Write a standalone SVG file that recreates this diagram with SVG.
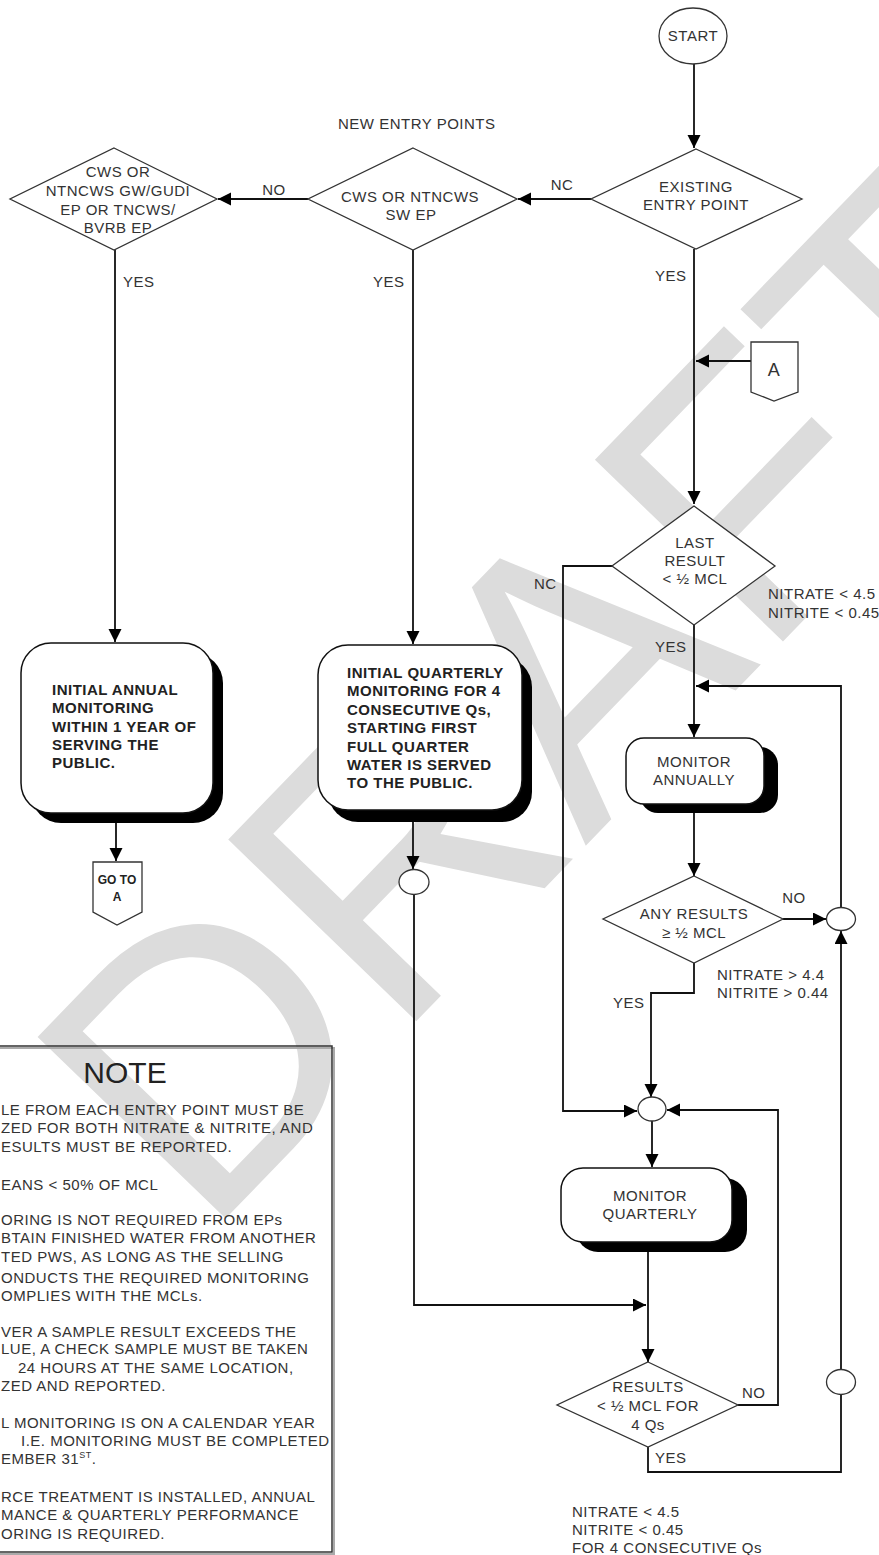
<svg xmlns="http://www.w3.org/2000/svg" width="879" height="1555" viewBox="0 0 879 1555">
<defs>
<style>
.t{font-family:"Liberation Sans",Arial,sans-serif;font-size:15px;letter-spacing:0.5px;fill:#333}
.c{text-anchor:middle}
.e{text-anchor:end}
.b{font-weight:bold;fill:#222}
.sh{fill:#fff;stroke:#333;stroke-width:1.3}
.bx{fill:#fff;stroke:#111;stroke-width:1.5}
.sd{fill:#000}
.ln{fill:none;stroke:#111;stroke-width:1.8}
.wm{font-family:"Liberation Sans",Arial,sans-serif;fill:#dcdcdc}
</style>
<marker id="ar" markerUnits="userSpaceOnUse" markerWidth="14" markerHeight="14" refX="13" refY="6.5" orient="auto">
<path d="M0,0 L13,6.5 L0,13 z" fill="#000"/>
</marker>
</defs>
<rect width="879" height="1555" fill="#fff"/>
<text class="wm" font-size="380" transform="translate(204,1241) rotate(-46)">DRAFT</text>

<g id="connectors">
<path class="ln" d="M694,64 V148" marker-end="url(#ar)"/>
<path class="ln" d="M591,199 H518" marker-end="url(#ar)"/>
<path class="ln" d="M308,199 H218" marker-end="url(#ar)"/>
<path class="ln" d="M115,250 V642" marker-end="url(#ar)"/>
<path class="ln" d="M413,250 V644" marker-end="url(#ar)"/>
<path class="ln" d="M694,249 V504" marker-end="url(#ar)"/>
<path class="ln" d="M751,361 H696" marker-end="url(#ar)"/>
<path class="ln" d="M116,823 V861" marker-end="url(#ar)"/>
<path class="ln" d="M413,822 V869" marker-end="url(#ar)"/>
<path class="ln" d="M612,566 H563 V1111 H637" marker-end="url(#ar)"/>
<path class="ln" d="M694,625 V737" marker-end="url(#ar)"/>
<path class="ln" d="M841,907 V686 H696" marker-end="url(#ar)"/>
<path class="ln" d="M694,813 V876" marker-end="url(#ar)"/>
<path class="ln" d="M783,919 H826" marker-end="url(#ar)"/>
<path class="ln" d="M694,963 V993 H651 V1097" marker-end="url(#ar)"/>
<path class="ln" d="M652,1121 V1167" marker-end="url(#ar)"/>
<path class="ln" d="M414,895 V1305 H646" marker-end="url(#ar)"/>
<path class="ln" d="M648,1252 V1362" marker-end="url(#ar)"/>
<path class="ln" d="M738,1405 H778 V1110 H667" marker-end="url(#ar)"/>
<path class="ln" d="M648,1447 V1472 H841 V1370" marker-end="url(#ar)"/>
<path class="ln" d="M841,1370 V931" marker-end="url(#ar)"/>
</g>

<g id="start">
<ellipse class="sh" cx="693" cy="36" rx="34" ry="28"/>
<text class="t c" x="693" y="41">START</text>
</g>
<text class="t" x="338" y="129">NEW ENTRY POINTS</text>

<g id="existing">
<polygon class="sh" points="696,149 802,199 696,249 591,199"/>
<text class="t c" x="696" y="192">EXISTING</text>
<text class="t c" x="696" y="210">ENTRY POINT</text>
</g>
<text class="t c" x="562" y="190">NC</text>
<text class="t" x="655" y="281">YES</text>

<g id="sw">
<polygon class="sh" points="413,148 517,199 413,250 308,199"/>
<text class="t c" x="410" y="202">CWS OR NTNCWS</text>
<text class="t c" x="411" y="220">SW EP</text>
</g>
<text class="t c" x="274" y="195">NO</text>
<text class="t" x="373" y="287">YES</text>

<g id="gw">
<polygon class="sh" points="114,148 217,199 114,250 10,199"/>
<text class="t c" x="118" y="177">CWS OR</text>
<text class="t c" x="118" y="196">NTNCWS GW/GUDI</text>
<text class="t c" x="118" y="215">EP OR TNCWS/</text>
<text class="t c" x="118" y="233">BVRB EP</text>
</g>
<text class="t" x="123" y="287">YES</text>

<g id="initial-annual">
<rect class="sd" x="31" y="653" width="192" height="170" rx="30"/>
<rect class="bx" x="21" y="643" width="192" height="170" rx="30"/>
<text class="t b" x="52" y="695">INITIAL ANNUAL</text>
<text class="t b" x="52" y="713">MONITORING</text>
<text class="t b" x="52" y="732">WITHIN 1 YEAR OF</text>
<text class="t b" x="52" y="750">SERVING THE</text>
<text class="t b" x="52" y="768">PUBLIC.</text>
</g>

<g id="goto-a">
<polygon class="sh" points="93,862 142,862 142,912 117,925 93,912"/>
<text class="t c b" style="font-size:12px;letter-spacing:0" x="117" y="884">GO TO</text>
<text class="t c b" style="font-size:12px;letter-spacing:0" x="117" y="901">A</text>
</g>

<g id="initial-quarterly">
<rect class="sd" x="328" y="657" width="204" height="165" rx="30"/>
<rect class="bx" x="318" y="645" width="204" height="165" rx="30"/>
<text class="t b" x="347" y="678">INITIAL QUARTERLY</text>
<text class="t b" x="347" y="696">MONITORING FOR 4</text>
<text class="t b" x="347" y="715">CONSECUTIVE Qs,</text>
<text class="t b" x="347" y="733">STARTING FIRST</text>
<text class="t b" x="347" y="752">FULL QUARTER</text>
<text class="t b" x="347" y="770">WATER IS SERVED</text>
<text class="t b" x="347" y="788">TO THE PUBLIC.</text>
</g>

<g id="junction-mid">
<ellipse class="sh" cx="414" cy="882" rx="15" ry="12.5"/>
</g>

<g id="connector-a">
<polygon class="sh" points="751,342 798,342 798,392 774,401 751,392"/>
<text class="t c" style="font-size:18px" x="774" y="376">A</text>
</g>

<g id="last-result">
<polygon class="sh" points="694,506 775,566 694,625 612,566"/>
<text class="t c" x="695" y="548">LAST</text>
<text class="t c" x="695" y="566">RESULT</text>
<text class="t c" x="695" y="584">&lt; ½ MCL</text>
</g>
<text class="t" x="768" y="599">NITRATE &lt; 4.5</text>
<text class="t" x="768" y="618">NITRITE &lt; 0.45</text>
<text class="t" x="534" y="589">NC</text>
<text class="t" x="655" y="652">YES</text>

<g id="monitor-annually">
<rect class="sd" x="640" y="747" width="138" height="66" rx="18"/>
<rect class="bx" x="626" y="738" width="138" height="66" rx="18"/>
<text class="t c" x="694" y="767">MONITOR</text>
<text class="t c" x="694" y="785">ANNUALLY</text>
</g>

<g id="any-results">
<polygon class="sh" points="694,876 783,919 694,963 603,919"/>
<text class="t c" x="694" y="919">ANY RESULTS</text>
<text class="t c" x="694" y="938">≥ ½ MCL</text>
</g>
<text class="t c" x="794" y="903">NO</text>
<text class="t" x="717" y="980">NITRATE &gt; 4.4</text>
<text class="t" x="717" y="998">NITRITE &gt; 0.44</text>
<text class="t" x="613" y="1008">YES</text>

<g id="junction-upper">
<ellipse class="sh" cx="841" cy="919" rx="14.5" ry="11.5"/>
</g>

<g id="junction-q">
<ellipse class="sh" cx="652" cy="1109" rx="14" ry="12"/>
</g>

<g id="monitor-quarterly">
<rect class="sd" x="576" y="1178" width="171" height="74" rx="22"/>
<rect class="bx" x="561" y="1168" width="171" height="74" rx="22"/>
<text class="t c" x="650" y="1201">MONITOR</text>
<text class="t c" x="650" y="1219">QUARTERLY</text>
</g>

<g id="results-4q">
<polygon class="sh" points="648,1362 738,1405 648,1447 557,1405"/>
<text class="t c" x="648" y="1392">RESULTS</text>
<text class="t c" x="648" y="1411">&lt; ½ MCL FOR</text>
<text class="t c" x="648" y="1430">4 Qs</text>
</g>
<text class="t" x="742" y="1398">NO</text>
<text class="t" x="655" y="1463">YES</text>

<g id="junction-lower">
<ellipse class="sh" cx="841" cy="1382" rx="14.5" ry="12.5"/>
</g>

<text class="t" x="572" y="1517">NITRATE &lt; 4.5</text>
<text class="t" x="572" y="1535">NITRITE &lt; 0.45</text>
<text class="t" x="572" y="1553">FOR 4 CONSECUTIVE Qs</text>

<g id="note">
<rect x="-6" y="1048" width="340" height="506" fill="none" stroke="#aaa" stroke-width="2"/>
<rect x="-8" y="1046" width="340" height="506" fill="none" stroke="#333" stroke-width="1.5"/>
<text class="t c" style="font-size:30px;letter-spacing:0;fill:#222" x="125" y="1083">NOTE</text>
<text class="t" x="1" y="1115">LE FROM EACH ENTRY POINT MUST BE</text>
<text class="t" x="1" y="1133">ZED FOR BOTH NITRATE &amp; NITRITE, AND</text>
<text class="t" x="1" y="1152">ESULTS MUST BE REPORTED.</text>
<text class="t" x="1" y="1190">EANS &lt; 50% OF MCL</text>
<text class="t" x="1" y="1225">ORING IS NOT REQUIRED FROM EPs</text>
<text class="t" x="1" y="1243">BTAIN FINISHED WATER FROM ANOTHER</text>
<text class="t" x="1" y="1262">TED PWS, AS LONG AS THE SELLING</text>
<text class="t" x="1" y="1283">ONDUCTS THE REQUIRED MONITORING</text>
<text class="t" x="1" y="1301">OMPLIES WITH THE MCLs.</text>
<text class="t" x="1" y="1337">VER A SAMPLE RESULT EXCEEDS THE</text>
<text class="t" x="1" y="1354">LUE, A CHECK SAMPLE MUST BE TAKEN</text>
<text class="t" x="18" y="1373">24 HOURS AT THE SAME LOCATION,</text>
<text class="t" x="1" y="1391">ZED AND REPORTED.</text>
<text class="t" x="1" y="1428">L MONITORING IS ON A CALENDAR YEAR</text>
<text class="t" x="21" y="1446">I.E. MONITORING MUST BE COMPLETED</text>
<text class="t" x="1" y="1464">EMBER 31<tspan style="font-size:9px" dy="-6">ST</tspan><tspan dy="6">.</tspan></text>
<text class="t" x="1" y="1502">RCE TREATMENT IS INSTALLED, ANNUAL</text>
<text class="t" x="1" y="1520">MANCE &amp; QUARTERLY PERFORMANCE</text>
<text class="t" x="1" y="1539">ORING IS REQUIRED.</text>
</g>
</svg>
